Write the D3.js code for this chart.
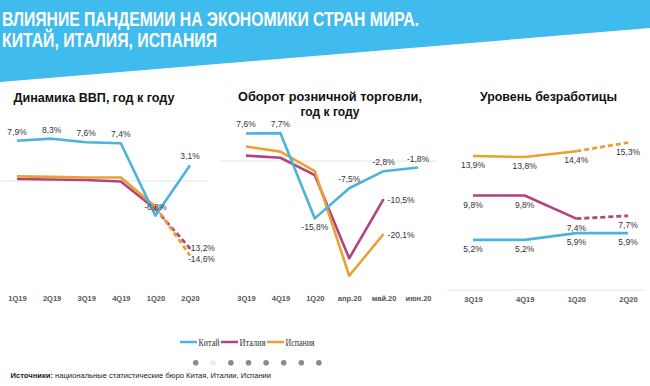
<!DOCTYPE html>
<html>
<head>
<meta charset="utf-8">
<script src="https://cdn.jsdelivr.net/npm/d3@7"></script>
<style>
  body { margin: 0; background: #fff; }
  text { font-family: "Liberation Sans", Arial, sans-serif; }
</style>
</head>
<body>
<div id="chart"></div>
<script>
// --- data ---
var titleLines = ["ВЛИЯНИЕ ПАНДЕМИИ НА ЭКОНОМИКИ СТРАН МИРА.", "КИТАЙ, ИТАЛИЯ, ИСПАНИЯ"];
var countries = ["Китай", "Италия", "Испания"];

var gdpPeriods = ["1Q19", "2Q19", "3Q19", "4Q19", "1Q20", "2Q20"];
var gdpChina = [7.9, 8.3, 7.6, 7.4, -6.8, 3.1];
var gdpItaly = [0.4, 0.3, 0.2, -0.1, -5.5, -13.2];
var gdpSpain = [0.9, 0.8, 0.7, 0.7, -5.0, -14.6];

var retailPeriods = ["3Q19", "4Q19", "1Q20", "апр.20", "май.20", "июн.20"];
var retailChina = [7.6, 7.7, -15.8, -7.5, -2.8, -1.8];
var retailItaly = [1.5, 0.9, -3.9, -26.8, -10.5];
var retailSpain = [4.0, 2.6, -2.8, -31.6, -20.1];

var unempPeriods = ["3Q19", "4Q19", "1Q20", "2Q20"];
var unempChina = [5.2, 5.2, 5.9, 5.9];
var unempItaly = [9.8, 9.8, 7.4, 7.7];
var unempSpain = [13.9, 13.8, 14.4, 15.3];

var sourceBold = "Источники:";
var sourceText = " национальные статистические бюро Китая, Италии, Испании";

// --- styles ---
var colors = { "Китай": "#4cb3db", "Италия": "#b3437f", "Испания": "#e9a134" };
var W = 650, H = 386;

var svg = d3.select("#chart").append("svg")
  .attr("width", W)
  .attr("height", H);

// header band
svg.append("polygon")
  .attr("points", "0,0 650,0 650,28 0,82")
  .attr("fill", "#3fbbee");

svg.selectAll(".title")
  .data(titleLines)
  .enter().append("text")
  .attr("class", "title")
  .attr("x", 2)
  .attr("y", function(d, i) { return 26 + i * 20.5; })
  .attr("textLength", function(d, i) { return i == 0 ? 417 : 215; })
  .attr("lengthAdjust", "spacingAndGlyphs")
  .style("font-size", "19.5px")
  .style("font-weight", "bold")
  .style("fill", "#fff")
  .text(function(d) { return d; });

var fmt = function(v) { return d3.format(".1f")(v).replace(".", ",").replace("−", "-") + "%"; };

// one small multiple
function drawPanel(opt) {
  var g = svg.append("g");

  var x = d3.scalePoint().domain(opt.periods).range(opt.xRange);
  var y = d3.scaleLinear().domain(opt.yDomain).range(opt.yRange);

  // zero / base line
  g.append("line")
    .attr("x1", opt.zeroX[0]).attr("x2", opt.zeroX[1])
    .attr("y1", y(0)).attr("y2", y(0))
    .attr("stroke", "#e4e4e4")
    .attr("stroke-width", 1);

  // titles
  opt.title.forEach(function(t, i) {
    g.append("text")
      .attr("x", opt.titleX)
      .attr("y", opt.titleY + i * 15.5)
      .attr("text-anchor", "middle")
      .attr("textLength", opt.titleLen[i])
      .attr("lengthAdjust", "spacingAndGlyphs")
      .style("font-size", "13.5px")
      .style("font-weight", "bold")
      .style("fill", "#111")
      .text(t);
  });

  // period labels
  var xAxis = d3.axisBottom(x).tickSize(0).tickPadding(0);
  var ax = g.append("g")
    .attr("transform", "translate(0," + opt.axisY + ")")
    .call(xAxis);
  ax.select(".domain").remove();
  ax.selectAll("text")
    .style("font-family", "'Liberation Sans', Arial, sans-serif")
    .style("font-size", "7.5px")
    .style("font-weight", "bold")
    .style("fill", "#555");

  var line = d3.line()
    .x(function(d) { return x(opt.periods[d.i]); })
    .y(function(d) { return y(d.v); });

  opt.series.forEach(function(s) {
    var pts = s.values.map(function(v, i) { return { i: i, v: v }; });
    var solid = s.dashFrom != null ? pts.slice(0, s.dashFrom + 1) : pts;
    g.append("path")
      .attr("d", line(solid))
      .attr("fill", "none")
      .attr("stroke", colors[s.name])
      .attr("stroke-width", 2.6)
      .attr("stroke-linejoin", "round");
    if (s.dashFrom != null) {
      g.append("path")
        .attr("d", line(pts.slice(s.dashFrom)))
        .attr("fill", "none")
        .attr("stroke", colors[s.name])
        .attr("stroke-width", 2.8)
        .attr("stroke-dasharray", "5,3");
    }
  });

  // value labels
  opt.series.forEach(function(s) {
    s.values.forEach(function(v, i) {
      var pos = s.labels[i];
      if (!pos) return;
      var px = x(opt.periods[i]), py = y(v);
      var t = g.append("text")
        .style("font-size", "8.5px")
        .style("fill", "#333")
        .text(fmt(v));
      if (pos == "t") {
        t.attr("x", px).attr("y", py - 6).attr("text-anchor", "middle");
      } else if (pos == "b") {
        t.attr("x", px).attr("y", py + 12).attr("text-anchor", "middle");
      } else if (pos == "r") {
        t.attr("x", px + 4).attr("y", py + 3.5).attr("text-anchor", "start");
      } else if (pos == "rr") {
        t.attr("x", px - 2).attr("y", py + 7).attr("text-anchor", "start");
      } else if (pos == "rt") {
        t.attr("x", px - 2).attr("y", py + 3).attr("text-anchor", "start");
      }
    });
  });
}

// GDP
drawPanel({
  periods: gdpPeriods,
  xRange: [17, 190],
  yDomain: [-15, 9],
  yRange: [257.5, 135.1],
  zeroX: [0, 208],
  axisY: 296,
  title: ["Динамика ВВП, год к году"],
  titleX: 94, titleY: 102, titleLen: [161],
  series: [
    { name: "Италия", values: gdpItaly, dashFrom: 4, labels: [0, 0, 0, 0, 0, "rt"] },
    { name: "Испания", values: gdpSpain, dashFrom: 4, labels: [0, 0, 0, 0, 0, "rr"] },
    { name: "Китай", values: gdpChina, dashFrom: null, labels: ["t", "t", "t", "t", "t", "t"] }
  ]
});

// retail
drawPanel({
  periods: retailPeriods,
  xRange: [246, 418],
  yDomain: [-32, 8],
  yRange: [277.2, 132],
  zeroX: [220, 437],
  axisY: 296,
  title: ["Оборот розничной торговли,", "год к году"],
  titleX: 330, titleY: 100.5, titleLen: [184, 59],
  series: [
    { name: "Италия", values: retailItaly, dashFrom: null, labels: [0, 0, 0, 0, "r"] },
    { name: "Испания", values: retailSpain, dashFrom: null, labels: [0, 0, 0, 0, "r"] },
    { name: "Китай", values: retailChina, dashFrom: null, labels: ["t", "t", "b", "t", "t", "t"] }
  ]
});

// unemployment
drawPanel({
  periods: unempPeriods,
  xRange: [473, 628],
  yDomain: [0, 16],
  yRange: [290, 135.8],
  zeroX: [447, 645],
  axisY: 297,
  title: ["Уровень безработицы"],
  titleX: 548.5, titleY: 101, titleLen: [137],
  series: [
    { name: "Китай", values: unempChina, dashFrom: null, labels: ["b", "b", "b", "b"] },
    { name: "Италия", values: unempItaly, dashFrom: 2, labels: ["b", "b", "b", "b"] },
    { name: "Испания", values: unempSpain, dashFrom: 2, labels: ["b", "b", "b", "b"] }
  ]
});

// legend
var legendX = [180, 221, 267];
var legendLen = [21, 26, 29];
var legend = svg.selectAll(".legend")
  .data(countries)
  .enter().append("g")
  .attr("class", "legend")
  .attr("transform", function(d, i) { return "translate(" + legendX[i] + ",342)"; });
legend.append("line")
  .attr("x1", 0).attr("x2", 17)
  .attr("y1", 0).attr("y2", 0)
  .attr("stroke", function(d) { return colors[d]; })
  .attr("stroke-width", 2.5);
legend.append("text")
  .attr("x", 18.5)
  .attr("y", 3.8)
  .attr("textLength", function(d, i) { return legendLen[i]; })
  .attr("lengthAdjust", "spacingAndGlyphs")
  .style("font-family", "'Liberation Serif', 'DejaVu Serif', serif")
  .style("font-size", "10.5px")
  .style("fill", "#333")
  .text(function(d) { return d; });

// slider dots
var dots = d3.range(8);
svg.selectAll(".dot")
  .data(dots)
  .enter().append("circle")
  .attr("class", "dot")
  .attr("cx", function(d) { return 195.7 + d * 17.6; })
  .attr("cy", 362.7)
  .attr("r", 2.8)
  .attr("fill", function(d) { return d == 1 ? "#eeeeee" : "#8a8a8a"; });

// source
var src = svg.append("text")
  .attr("x", 10.5)
  .attr("y", 378)
  .style("font-size", "7.6px")
  .style("fill", "#222");
src.append("tspan").style("font-weight", "bold").text(sourceBold);
src.append("tspan").text(sourceText);
</script>
</body>
</html>
